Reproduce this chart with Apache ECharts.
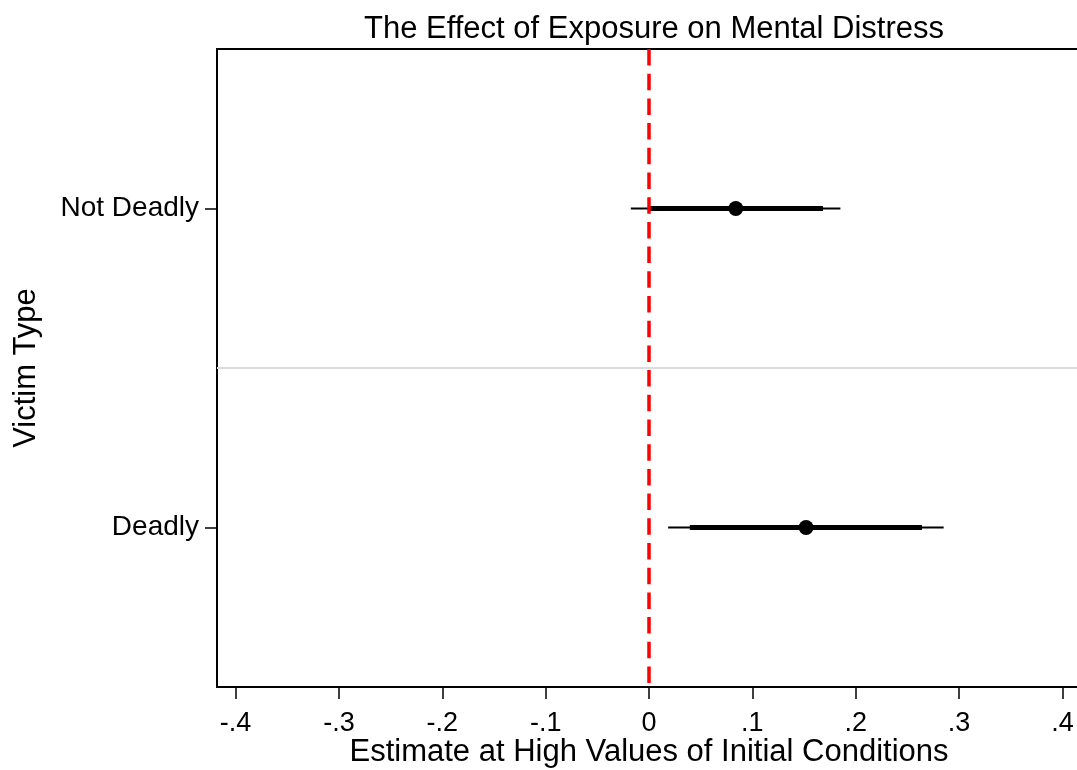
<!DOCTYPE html>
<html>
<head>
<meta charset="utf-8">
<script src="https://cdn.jsdelivr.net/npm/echarts@6/dist/echarts.min.js"></script>
<style>
  html, body { margin: 0; padding: 0; background: #ffffff; }
  #chart { width: 1077px; height: 770px; }
</style>
</head>
<body>
<div id="chart"></div>
<script>
// Coefficient plot: point estimates with 90% (thick) and 95% (thin) intervals
const categories = ['Deadly', 'Not Deadly'];
const estimates = [0.152, 0.084];
const ci90Low = [0.0395, -0.0007];
const ci90High = [0.2641, 0.1683];
const ci95Low = [0.0185, -0.0176];
const ci95High = [0.2851, 0.1852];
const xTicks = [-0.4, -0.3, -0.2, -0.1, 0, 0.1, 0.2, 0.3, 0.4];
const referenceLine = 0;

const FONT = '"Liberation Sans", Arial, Helvetica, sans-serif';

// each category sits in the middle of its own band on the y scale
const yOf = i => i + 0.5;

function fmtTick(v) {
  if (Math.abs(v) < 1e-9) return '0';
  const s = Math.abs(v).toFixed(1).replace(/^0/, '');
  return (v < 0 ? '-' : '') + s;
}

function intervalSeries(name, lows, highs, width) {
  return {
    name: name,
    type: 'custom',
    z: 3,
    data: lows.map((lo, i) => [lo, highs[i], yOf(i)]),
    encode: { x: [0, 1], y: 2 },
    renderItem: function (params, api) {
      const a = api.coord([api.value(0), api.value(2)]);
      const b = api.coord([api.value(1), api.value(2)]);
      return {
        type: 'line',
        shape: { x1: a[0], y1: a[1], x2: b[0], y2: b[1] },
        style: { stroke: '#000000', lineWidth: width }
      };
    },
    silent: true
  };
}

const chart = echarts.init(document.getElementById('chart'), null, { renderer: 'canvas' });

chart.setOption({
  backgroundColor: '#ffffff',
  animation: false,
  title: {
    text: 'The Effect of Exposure on Mental Distress',
    left: 649,
    top: 9,
    textAlign: 'center',
    textStyle: { fontFamily: FONT, fontSize: 31, fontWeight: 'normal', color: '#000000' }
  },
  grid: {
    left: 217,
    top: 49,
    width: 864,
    height: 638,
    show: true,
    borderColor: '#000000',
    borderWidth: 2,
    backgroundColor: '#ffffff',
    containLabel: false,
    outerBoundsMode: 'none'
  },
  xAxis: {
    type: 'value',
    min: -0.418,
    max: 0.418,
    z: 4,
    name: 'Estimate at High Values of Initial Conditions',
    nameLocation: 'middle',
    nameGap: 50,
    nameMoveOverlap: false,
    nameTextStyle: { fontFamily: FONT, fontSize: 31, color: '#000000' },
    axisLine: { show: true, onZero: false, lineStyle: { color: '#000000', width: 2 } },
    axisTick: { show: true, length: 12, customValues: xTicks, lineStyle: { color: '#000000', width: 1.5 } },
    axisLabel: {
      customValues: xTicks,
      formatter: fmtTick,
      margin: 23,
      fontFamily: FONT,
      fontSize: 27,
      color: '#000000'
    },
    splitLine: { show: false }
  },
  yAxis: {
    type: 'value',
    min: 0,
    max: categories.length,
    z: 4,
    name: 'Victim Type',
    nameLocation: 'middle',
    nameGap: 175,
    nameRotate: 90,
    nameMoveOverlap: false,
    nameTextStyle: { fontFamily: FONT, fontSize: 31, color: '#000000' },
    axisLine: { show: true, onZero: false, lineStyle: { color: '#000000', width: 2 } },
    axisTick: { show: true, length: 12, customValues: categories.map((c, i) => yOf(i)), lineStyle: { color: '#000000', width: 1.5 } },
    axisLabel: {
      customValues: categories.map((c, i) => yOf(i)),
      formatter: v => categories[Math.round(v - 0.5)],
      margin: 18,
      fontFamily: FONT,
      fontSize: 28,
      color: '#000000'
    },
    splitLine: { show: false }
  },
  series: [
    {
      name: 'guides',
      type: 'scatter',
      data: [],
      z: 1,
      markLine: {
        silent: true,
        symbol: 'none',
        label: { show: false },
        data: [
          { yAxis: 1, lineStyle: { color: '#dcdcdc', width: 2, type: 'solid' } },
          { xAxis: referenceLine, lineStyle: { color: '#ff0000', width: 3.5, type: [16.5, 8.2], dashOffset: -4 } }
        ]
      }
    },
    intervalSeries('95% CI', ci95Low, ci95High, 2),
    intervalSeries('90% CI', ci90Low, ci90High, 5),
    {
      name: 'Estimate',
      type: 'scatter',
      z: 5,
      symbol: 'circle',
      symbolSize: 15,
      itemStyle: { color: '#000000', opacity: 1 },
      data: estimates.map((v, i) => [v, yOf(i)]),
      silent: true
    }
  ]
});
</script>
</body>
</html>
